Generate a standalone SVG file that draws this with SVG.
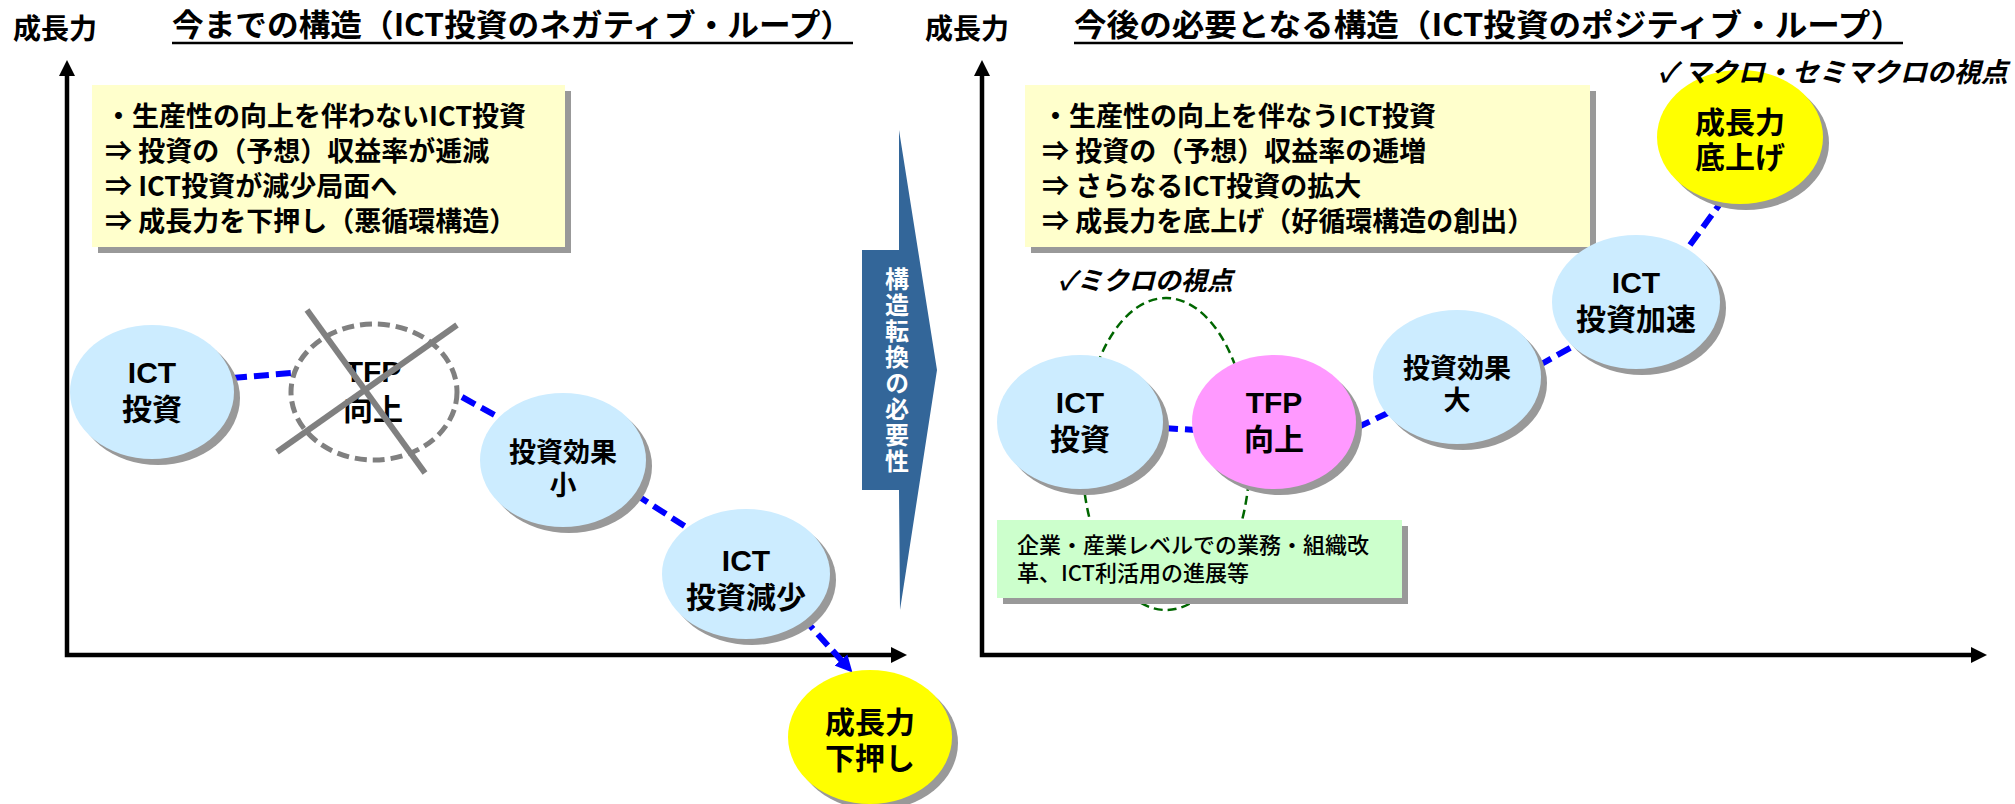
<svg xmlns="http://www.w3.org/2000/svg" width="2015" height="804" viewBox="0 0 2015 804">
<defs>
<style>
text{font-family:"Noto Sans CJK JP","Liberation Sans",sans-serif;fill:#000}
.b{font-weight:bold}
.lbl{font-size:28px;font-weight:bold}
.ttl{font-size:31px;font-weight:bold}
.box{font-size:27px;font-weight:bold}
.nt{font-size:30px;font-weight:bold;text-anchor:middle}
.nt2{font-size:27px;font-weight:bold;text-anchor:middle}
.lat{font-family:"Liberation Sans","Noto Sans CJK JP",sans-serif}
.chk{font-size:26px;font-weight:bold;font-style:italic}
.vert{font-size:24px;font-weight:bold;fill:#fff;writing-mode:vertical-rl;letter-spacing:2px}
.sh{fill:#999999}
.nb{fill:#CCECFF}
.ny{fill:#FFFF00}
.np{fill:#FF99FF}
.axis{fill:none;stroke:#000;stroke-width:4.5;stroke-linejoin:miter}
.con{fill:none;stroke:#0000FF;stroke-width:6;stroke-dasharray:15 7}
</style>
<marker id="ah" viewBox="0 0 16 16" markerUnits="userSpaceOnUse" markerWidth="16" markerHeight="16" refX="6" refY="8" orient="auto-start-reverse">
<path d="M0,0 L16,8 L0,16 z" fill="#000"/>
</marker>
<marker id="bh" viewBox="0 0 16 16" markerUnits="userSpaceOnUse" markerWidth="17" markerHeight="17" refX="6" refY="8" orient="auto">
<path d="M0,0 L16,8 L0,16 z" fill="#0000FF"/>
</marker>
</defs>
<rect width="2015" height="804" fill="#fff"/>

<g id="labels">
<text class="lbl" x="13" y="39">成長力</text>
<text class="ttl" x="172" y="36" textLength="680" lengthAdjust="spacingAndGlyphs">今までの構造（ICT投資のネガティブ・ループ）</text>
<line x1="172" y1="43" x2="853" y2="43" stroke="#000" stroke-width="2.5"/>
<text class="lbl" x="925" y="39">成長力</text>
<text class="ttl" x="1074" y="36" textLength="829" lengthAdjust="spacingAndGlyphs">今後の必要となる構造（ICT投資のポジティブ・ループ）</text>
<line x1="1074" y1="43" x2="1903" y2="43" stroke="#000" stroke-width="2.5"/>
</g>

<g id="axes">
<polyline class="axis" points="67,70 67,655 897,655" marker-start="url(#ah)" marker-end="url(#ah)"/>
<polyline class="axis" points="982,70 982,655 1977,655" marker-start="url(#ah)" marker-end="url(#ah)"/>
</g>

<g id="box-left">
<rect class="sh" x="98" y="91" width="473" height="162"/>
<rect x="92" y="85" width="473" height="162" fill="#FFFFCC"/>
<text class="box" x="105" y="126">・生産性の向上を伴わないICT投資</text>
<text class="box" x="105" y="161">⇒ 投資の（予想）収益率が逓減</text>
<text class="box" x="105" y="196">⇒ ICT投資が減少局面へ</text>
<text class="box" x="105" y="231">⇒ 成長力を下押し（悪循環構造）</text>
</g>

<g id="box-right">
<rect class="sh" x="1031" y="91" width="565" height="162"/>
<rect x="1025" y="85" width="565" height="162" fill="#FFFFCC"/>
<text class="box" x="1042" y="126">・生産性の向上を伴なうICT投資</text>
<text class="box" x="1042" y="161">⇒ 投資の（予想）収益率の逓増</text>
<text class="box" x="1042" y="196">⇒ さらなるICT投資の拡大</text>
<text class="box" x="1042" y="231">⇒ 成長力を底上げ（好循環構造の創出）</text>
</g>

<g id="transition-arrow">
<polygon points="899,130 937,370 900,610 899,490 862,490 862,250 899,250" fill="#336699"/>
<text class="vert" x="897" y="267" style="fill:#fff">構造転換の必要性</text>
</g>

<g id="micro-group">
<ellipse cx="1166" cy="454" rx="84" ry="156" fill="none" stroke="#006600" stroke-width="2.5" stroke-dasharray="9 5"/>
<text class="chk" x="1058" y="290">✓ミクロの視点</text>
</g>

<g id="box-green">
<rect class="sh" x="1003" y="526" width="405" height="78"/>
<rect x="997" y="520" width="405" height="78" fill="#CCFFCC"/>
<text x="1017" y="553" font-size="22" font-weight="500">企業・産業レベルでの業務・組織改</text>
<text x="1017" y="581" font-size="22" font-weight="500">革、ICT利活用の進展等</text>
</g>

<g id="connectors">
<line class="con" x1="232" y1="378" x2="292" y2="373"/>
<line class="con" x1="462" y1="397" x2="500" y2="418"/>
<line class="con" x1="635" y1="494" x2="686" y2="527"/>
<line class="con" x1="803" y1="618" x2="845.3" y2="664.6" marker-end="url(#bh)"/>
<line class="con" x1="1163" y1="428" x2="1196" y2="430"/>
<line class="con" x1="1356" y1="428" x2="1390" y2="412"/>
<line class="con" x1="1538" y1="366" x2="1577" y2="344"/>
<line class="con" x1="1690" y1="245" x2="1724.1" y2="198.1" marker-end="url(#bh)"/>
</g>

<g id="n-ict-left">
<ellipse class="sh" cx="158" cy="398" rx="82" ry="67"/>
<ellipse class="nb" cx="152" cy="392" rx="82" ry="67"/>
<text class="nt" x="152" y="383"><tspan class="lat">ICT</tspan><tspan x="152" y="420">投資</tspan></text>
</g>

<g id="n-tfp-crossed">
<ellipse cx="374" cy="392" rx="83" ry="68" fill="none" stroke="#808080" stroke-width="5" stroke-dasharray="12 6"/>
<text class="b" x="373" y="382" font-size="30" text-anchor="middle"><tspan class="lat">TFP</tspan><tspan x="373" y="420">向上</tspan></text>
<line x1="307" y1="310" x2="425" y2="473" stroke="#808080" stroke-width="6"/>
<line x1="277" y1="452" x2="457" y2="325" stroke="#808080" stroke-width="6"/>
</g>

<g id="n-effect-small">
<ellipse class="sh" cx="569" cy="466" rx="83" ry="67"/>
<ellipse class="nb" cx="563" cy="460" rx="83" ry="67"/>
<text class="nt2" x="563" y="462">投資効果<tspan x="563" y="495">小</tspan></text>
</g>

<g id="n-ict-decrease">
<ellipse class="sh" cx="752" cy="580" rx="84" ry="65"/>
<ellipse class="nb" cx="746" cy="574" rx="84" ry="65"/>
<text class="nt" x="746" y="571"><tspan class="lat">ICT</tspan><tspan x="746" y="608">投資減少</tspan></text>
</g>

<g id="n-growth-down">
<ellipse class="sh" cx="876" cy="743" rx="82" ry="67"/>
<ellipse class="ny" cx="870" cy="737" rx="82" ry="67"/>
<text class="nt" x="870" y="733">成長力<tspan x="870" y="769">下押し</tspan></text>
</g>

<g id="n-ict-right">
<ellipse class="sh" cx="1086" cy="428" rx="83" ry="67"/>
<ellipse class="nb" cx="1080" cy="422" rx="83" ry="67"/>
<text class="nt" x="1080" y="413"><tspan class="lat">ICT</tspan><tspan x="1080" y="450">投資</tspan></text>
</g>

<g id="n-tfp-right">
<ellipse class="sh" cx="1280" cy="428" rx="82" ry="67"/>
<ellipse class="np" cx="1274" cy="422" rx="82" ry="67"/>
<text class="nt" x="1274" y="413"><tspan class="lat">TFP</tspan><tspan x="1274" y="450">向上</tspan></text>
</g>

<g id="n-effect-large">
<ellipse class="sh" cx="1463" cy="383" rx="84" ry="67"/>
<ellipse class="nb" cx="1457" cy="377" rx="84" ry="67"/>
<text class="nt2" x="1457" y="378">投資効果<tspan x="1457" y="410">大</tspan></text>
</g>

<g id="n-ict-accel">
<ellipse class="sh" cx="1642" cy="308" rx="84" ry="67"/>
<ellipse class="nb" cx="1636" cy="302" rx="84" ry="67"/>
<text class="nt" x="1636" y="293"><tspan class="lat">ICT</tspan><tspan x="1636" y="330">投資加速</tspan></text>
</g>

<g id="n-growth-up">
<ellipse class="sh" cx="1746" cy="143" rx="83" ry="67"/>
<ellipse class="ny" cx="1740" cy="137" rx="83" ry="67"/>
<text class="nt" x="1740" y="133">成長力<tspan x="1740" y="168">底上げ</tspan></text>
<text class="chk" x="1658" y="82" style="font-size:27px">✓ マクロ・セミマクロの視点</text>
</g>
</svg>
